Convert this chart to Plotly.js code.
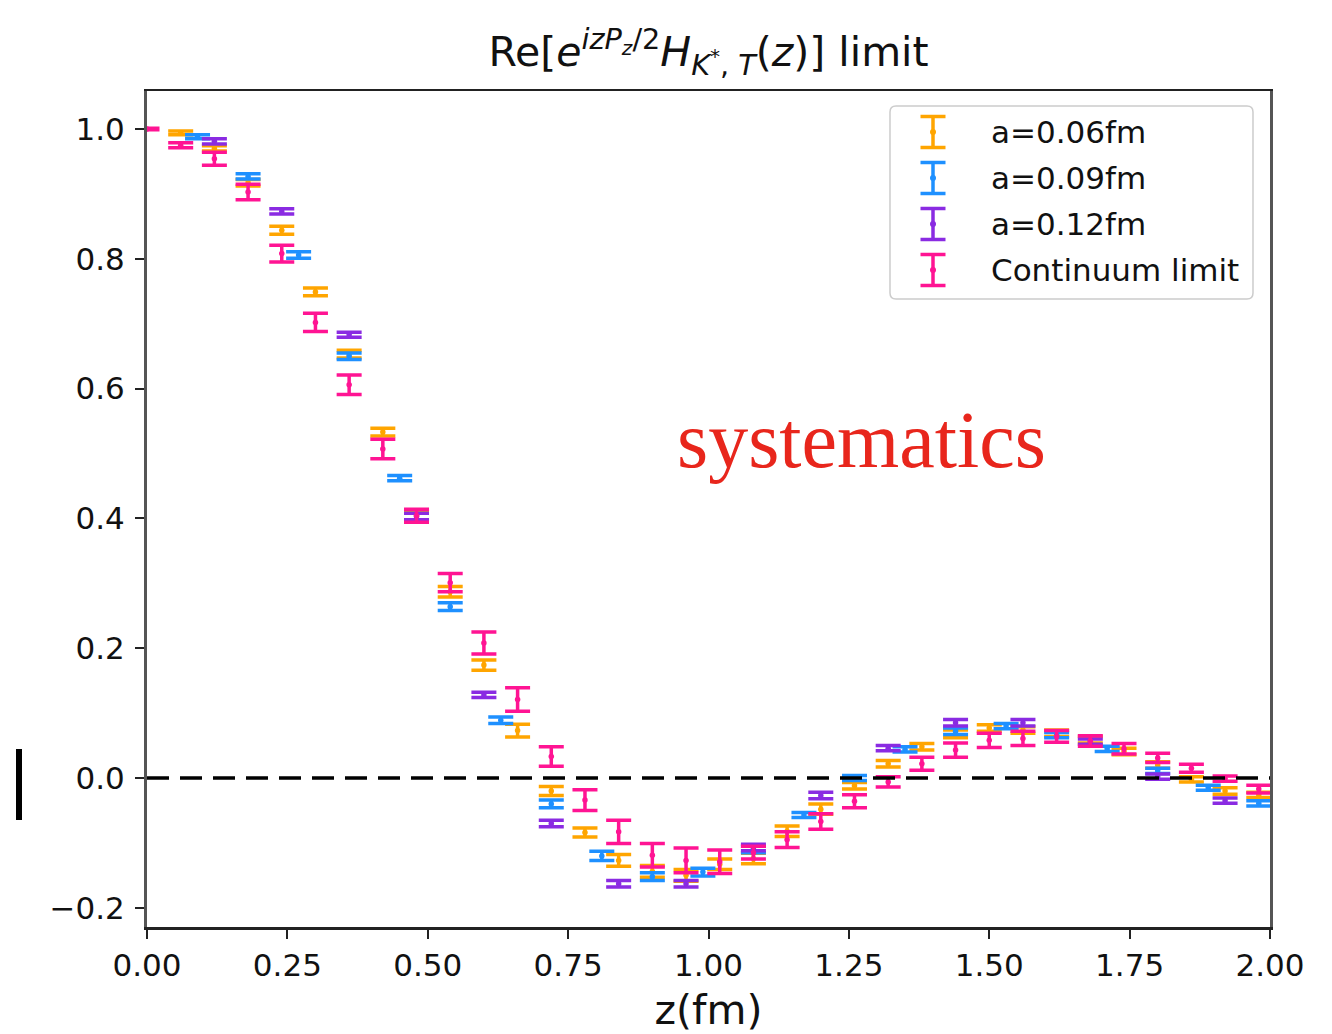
<!DOCTYPE html>
<html>
<head>
<meta charset="utf-8">
<script src="https://cdn.plot.ly/plotly-3.0.1.min.js"></script>
<style>html,body{margin:0;padding:0;background:#fff;}#chart{width:1332px;height:1034px;}</style>
</head>
<body>
<div id="chart"></div>
<script>
// ---- data ----
const seriesNames = ["a=0.06fm", "a=0.09fm", "a=0.12fm", "Continuum limit"];
const seriesColors = ["#FFA500", "#1E90FF", "#8A2BE2", "#FF1493"];

const z006 = [0.06,0.12,0.18,0.24,0.30,0.36,0.42,0.48,0.54,0.60,0.66,0.72,0.78,0.84,0.90,0.96,1.02,1.08,1.14,1.20,1.26,1.32,1.38,1.44,1.50,1.56,1.62,1.68,1.74,1.80,1.86,1.92,1.98];
const y006 = [0.994,0.970,0.917,0.844,0.749,0.653,0.533,0.405,0.287,0.174,0.073,-0.020,-0.084,-0.127,-0.144,-0.150,-0.133,-0.124,-0.082,-0.048,-0.012,0.022,0.048,0.068,0.077,0.074,0.069,0.059,0.041,0.020,-0.002,-0.020,-0.026];
const e006 = [0.003,0.004,0.005,0.006,0.006,0.006,0.006,0.007,0.008,0.008,0.010,0.007,0.007,0.009,0.009,0.009,0.008,0.008,0.008,0.008,0.005,0.005,0.005,0.006,0.005,0.005,0.005,0.005,0.005,0.005,0.004,0.005,0.004];

const z009 = [0.09,0.18,0.27,0.36,0.45,0.54,0.63,0.72,0.81,0.90,0.99,1.08,1.17,1.26,1.35,1.44,1.53,1.62,1.71,1.80,1.89,1.98];
const y009 = [0.988,0.927,0.806,0.650,0.462,0.264,0.089,-0.040,-0.120,-0.152,-0.145,-0.110,-0.057,0.000,0.044,0.072,0.080,0.066,0.045,0.011,-0.015,-0.039];
const e009 = [0.003,0.004,0.005,0.005,0.004,0.006,0.005,0.006,0.007,0.006,0.006,0.005,0.004,0.004,0.004,0.005,0.004,0.004,0.004,0.004,0.004,0.004];

const z012 = [0.12,0.24,0.36,0.48,0.60,0.72,0.84,0.96,1.08,1.20,1.32,1.44,1.56,1.68,1.80,1.92];
const y012 = [0.981,0.873,0.683,0.403,0.128,-0.070,-0.163,-0.163,-0.107,-0.027,0.046,0.085,0.085,0.056,0.002,-0.035];
const e012 = [0.004,0.004,0.004,0.005,0.004,0.005,0.005,0.005,0.005,0.005,0.004,0.005,0.005,0.004,0.004,0.004];

const zCont = [0.00,0.06,0.12,0.18,0.24,0.30,0.36,0.42,0.48,0.54,0.60,0.66,0.72,0.78,0.84,0.90,0.96,1.02,1.08,1.14,1.20,1.26,1.32,1.38,1.44,1.50,1.56,1.62,1.68,1.74,1.80,1.86,1.92,1.98];
const yCont = [1.000,0.975,0.954,0.903,0.808,0.702,0.606,0.507,0.404,0.301,0.208,0.121,0.033,-0.034,-0.083,-0.119,-0.127,-0.129,-0.115,-0.095,-0.067,-0.036,-0.006,0.022,0.043,0.058,0.061,0.064,0.057,0.045,0.031,0.015,-0.001,-0.017];
const eCont = [0.001,0.004,0.010,0.012,0.013,0.014,0.015,0.015,0.010,0.014,0.017,0.018,0.015,0.016,0.018,0.018,0.019,0.018,0.010,0.012,0.012,0.010,0.008,0.010,0.011,0.011,0.011,0.009,0.008,0.008,0.007,0.006,0.004,0.006];

const xTicks = [0, 0.25, 0.5, 0.75, 1.0, 1.25, 1.5, 1.75, 2.0];
const yTicks = [-0.2, 0, 0.2, 0.4, 0.6, 0.8, 1.0];

// ---- build ----
const zs = [z006, z009, z012, zCont];
const ys = [y006, y009, y012, yCont];
const es = [e006, e009, e012, eCont];

const traces = zs.map((z, i) => ({
  type: 'scatter', mode: 'markers', name: seriesNames[i],
  x: z, y: ys[i],
  marker: {color: seriesColors[i], size: 5.5},
  error_y: {type: 'data', array: es[i], visible: true, color: seriesColors[i], thickness: 3.5, width: 12.5},
  showlegend: false, hoverinfo: 'x+y'
}));

// plot area in pixels
const L = 147, R = 1270, T = 91, B = 927;
const px = x => (x - L) / (R - L);
const py = y => (B - y) / (B - T);

const shapes = [
  {type: 'line', xref: 'paper', yref: 'y', x0: 0, x1: 1, y0: 0, y1: 0,
   line: {color: '#000', width: 3.5, dash: '22px,11px'}, layer: 'above'},
  // stray vertical mark at the left of the reference picture
  {type: 'rect', xref: 'paper', yref: 'paper', x0: px(16), x1: px(22), y0: py(820), y1: py(749),
   fillcolor: '#000', line: {width: 0}},
];

// legend box (rounded)
(function () {
  const x0 = 890, x1 = 1253, y0 = 106, y1 = 299, r = 6;
  const P = (x, y) => px(x).toFixed(5) + ',' + py(y).toFixed(5);
  const path = 'M' + P(x0 + r, y0) + ' L' + P(x1 - r, y0) + ' Q' + P(x1, y0) + ' ' + P(x1, y0 + r) +
    ' L' + P(x1, y1 - r) + ' Q' + P(x1, y1) + ' ' + P(x1 - r, y1) +
    ' L' + P(x0 + r, y1) + ' Q' + P(x0, y1) + ' ' + P(x0, y1 - r) +
    ' L' + P(x0, y0 + r) + ' Q' + P(x0, y0) + ' ' + P(x0 + r, y0) + ' Z';
  shapes.push({type: 'path', xref: 'paper', yref: 'paper', path: path,
    fillcolor: 'rgba(255,255,255,0.85)', line: {color: '#cccccc', width: 1.5}, layer: 'above'});
})();

const annotations = [];
const legendY = [132, 178, 224, 270];
seriesNames.forEach((nm, i) => {
  const cy = legendY[i], cx = 933, hh = 15.5, cw = 12.5, col = seriesColors[i];
  shapes.push({type: 'line', xref: 'paper', yref: 'paper', x0: px(cx), x1: px(cx), y0: py(cy - hh), y1: py(cy + hh), line: {color: col, width: 3.5}, layer: 'above'});
  shapes.push({type: 'line', xref: 'paper', yref: 'paper', x0: px(cx - cw), x1: px(cx + cw), y0: py(cy - hh), y1: py(cy - hh), line: {color: col, width: 3.5}, layer: 'above'});
  shapes.push({type: 'line', xref: 'paper', yref: 'paper', x0: px(cx - cw), x1: px(cx + cw), y0: py(cy + hh), y1: py(cy + hh), line: {color: col, width: 3.5}, layer: 'above'});
  shapes.push({type: 'circle', xref: 'paper', yref: 'paper', x0: px(cx - 3), x1: px(cx + 3), y0: py(cy + 3), y1: py(cy - 3), fillcolor: col, line: {color: col, width: 0}, layer: 'above'});
  annotations.push({xref: 'paper', yref: 'paper', x: px(989), y: py(cy), xanchor: 'left', yanchor: 'middle',
    text: nm, showarrow: false, font: {family: 'DejaVu Sans', size: 31, color: '#111'}});
});

annotations.push({xref: 'paper', yref: 'paper', x: px(862), y: py(440), xanchor: 'center', yanchor: 'middle',
  text: 'systematics', showarrow: false,
  font: {family: 'Liberation Serif, Times New Roman, serif', size: 80, color: '#E8261C'}});

const layout = {
  width: 1332, height: 1034,
  margin: {l: L, r: 1332 - R, t: T, b: 1034 - B},
  paper_bgcolor: '#fff', plot_bgcolor: '#fff',
  font: {family: 'DejaVu Sans', color: '#111'},
  title: {
    text: 'Re[<i>e</i><sup><i>izP<sub>z</sub></i>/2</sup><i>H</i><sub><i>K</i><sup>*</sup>, <i>T</i></sub>(<i>z</i>)] limit',
    x: 0.5, xref: 'paper', y: 1 - 52 / 1034, yref: 'container', yanchor: 'middle',
    font: {family: 'DejaVu Sans', size: 41, color: '#111'}
  },
  xaxis: {
    range: [0, 2.0], tickvals: xTicks, tickformat: '.2f', ticks: 'outside', ticklen: 9, tickwidth: 2, tickcolor: '#222',
    showline: true, linecolor: '#222', linewidth: 2.5, mirror: true, showgrid: false, zeroline: false,
    tickfont: {family: 'DejaVu Sans', size: 31, color: '#111'},
    title: {text: 'z(fm)', standoff: 16, font: {family: 'DejaVu Sans', size: 41, color: '#111'}}
  },
  yaxis: {
    range: [(778 - 927) / 649, (778 - 91) / 649], tickvals: yTicks, tickformat: '.1f', ticks: 'outside', ticklen: 9, tickwidth: 2, tickcolor: '#222',
    ticklabelstandoff: 4,
    showline: true, linecolor: '#555', linewidth: 3, mirror: true, showgrid: false, zeroline: false,
    tickfont: {family: 'DejaVu Sans', size: 31, color: '#111'}
  },
  shapes: shapes,
  annotations: annotations,
  showlegend: false
};

Plotly.newPlot('chart', traces, layout, {displayModeBar: false, staticPlot: true});
</script>
</body>
</html>
